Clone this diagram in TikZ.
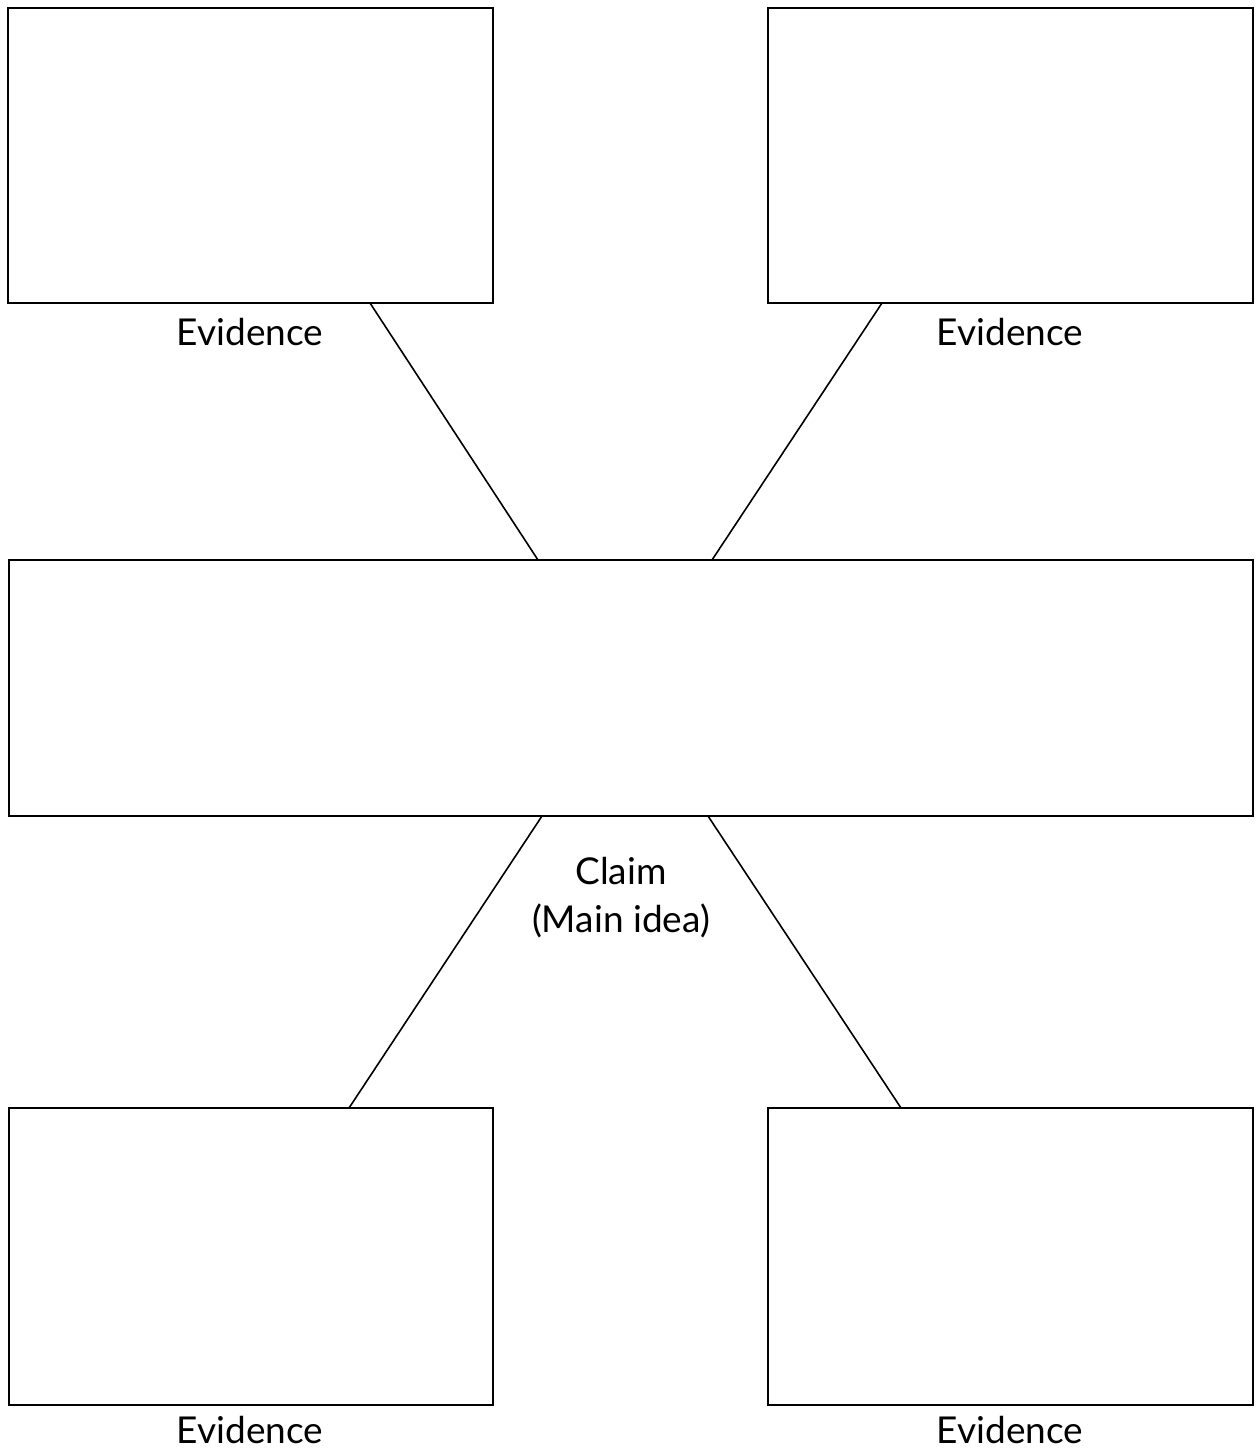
\documentclass[tikz,border=0pt]{standalone}
\usepackage{fontspec}
\setmainfont{Lato}
\begin{document}
\begin{tikzpicture}[x=1pt,y=-1pt,
  box/.style={draw=black,line width=2pt,fill=white,inner sep=0pt,outer sep=0pt},
  link/.style={draw=black,line width=1.6pt},
  lab/.style={font=\fontsize{37}{48}\selectfont,inner sep=0pt,align=center}]
\useasboundingbox[fill=white] (0,0) rectangle (1256,1450);
\node[box,minimum width=485pt,minimum height=295pt,anchor=north west] (tl) at (8,8) {};
\node[box,minimum width=485pt,minimum height=295pt,anchor=north west] (tr) at (768,8) {};
\node[box,minimum width=1244pt,minimum height=256pt,anchor=north west] (mid) at (9,560) {};
\node[box,minimum width=484pt,minimum height=297pt,anchor=north west] (bl) at (9,1108) {};
\node[box,minimum width=485pt,minimum height=297pt,anchor=north west] (br) at (768,1108) {};
\draw[link] ([xshift=362pt]tl.south west) -- ([xshift=529pt]mid.north west);
\draw[link] ([xshift=114pt]tr.south west) -- ([xshift=703pt]mid.north west);
\draw[link] ([xshift=533pt]mid.south west) -- ([xshift=340pt]bl.north west);
\draw[link] ([xshift=699pt]mid.south west) -- ([xshift=133pt]br.north west);
\node[lab] (e1) at (250,332) {Evidence};
\node[lab] (e2) at (1010,332) {Evidence};
\node[lab] (e3) at (250,1430) {Evidence};
\node[lab] (e4) at (1010,1430) {Evidence};
\node[lab] (claim) at (621,898) {Claim\\(Main idea)};
\end{tikzpicture}
\end{document}
